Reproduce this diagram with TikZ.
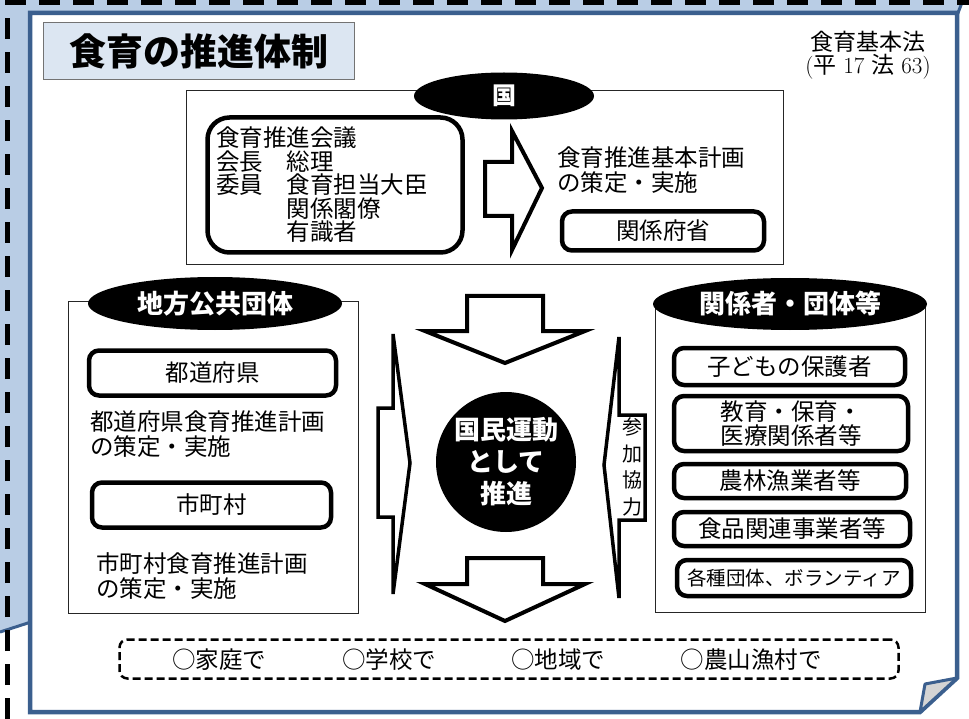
\documentclass[tikz,border=0pt]{standalone}
\usepackage{fontspec}
\newfontfamily\jp{Noto Sans CJK JP}
\usetikzlibrary{shapes.geometric}
\definecolor{pageblue}{HTML}{3B5F8E}
\definecolor{backblue}{HTML}{B9CDE5}
\definecolor{titleblue}{HTML}{DCE6F2}
\definecolor{foldgray}{HTML}{D4D4D4}
\begin{document}
\begin{tikzpicture}[x=1pt,y=-1pt]
  \def\txt{\jp\fontsize{23.5}{24.5}\selectfont}
  \def\head{\jp\bfseries\fontsize{26}{32}\selectfont}
  \tikzset{frame/.style={draw=black!85,line width=1pt,inner sep=0pt},
    tag/.style={ellipse,fill=black,text=white,inner sep=0pt,font=\head},
    org/.style={draw,line width=4.5pt,rounded corners=10pt,inner sep=0pt,align=center,font=\txt},
    plain/.style={inner sep=0pt,align=left,anchor=west,font=\txt},
    blk/.style={draw,line width=4pt,fill=white,line join=miter,miter limit=6}}
  \useasboundingbox (0,0) rectangle (969,719);
  %sheets
  \fill[backblue] (0,0) -- (964,0) -- (950,40) -- (30,621) -- (0,631) -- cycle;
  \draw[pageblue,line width=3pt] (0,632) -- (31,622) (956,18) -- (963,0);
  \draw[line width=5pt,dash pattern=on 21pt off 13pt] (7,719) -- (7,3) -- (969,3);
  \filldraw[draw=pageblue,fill=white,line width=4.5pt] (30,13) -- (957,13) -- (957,678) -- (920,712) -- (30,712) -- cycle;
  \filldraw[draw=pageblue,fill=foldgray,line width=3pt,line join=round] (957,678) -- (925,684) -- (920,712) -- cycle;
  %title
  \node[draw=black!55,line width=1.2pt,fill=titleblue,minimum width=311,minimum height=57,inner sep=0pt,
    font=\jp\bfseries\fontsize{37}{38}\selectfont] (title) at (199,51) {食育の推進体制};
  \node[inner sep=0pt,align=center,font=\fontsize{23}{23}\selectfont] (law) at (868,55)
    {{\jp 食育基本法}\\({\jp 平} 17 {\jp 法} 63)};
  %country
  \node[frame,minimum width=597,minimum height=174] (KUNI) at (484.5,178) {};
  \node[tag,minimum width=180,minimum height=47,font=\jp\bfseries\fontsize{24}{26}\selectfont] (kunitag) at (504,96) {国};
  \node[org,rounded corners=22pt,minimum width=255,minimum height=135,text width=238,align=left,
    font=\jp\fontsize{23.5}{23.5}\selectfont] (COUNCIL) at (335,185)
    {食育推進会議\\会長　総理\\委員　食育担当大臣\\　　　関係閣僚\\　　　有識者};
  \draw[blk] (485,162) -- (512,162) -- (512,131) -- (542,188) -- (512,250) -- (512,216) -- (485,216) -- cycle;
  \node[plain] (PLAN) at (557,170) {食育推進基本計画\\の策定・実施};
  \node[org,minimum width=202,minimum height=39] (MIN) at (663,231) {関係府省};
  %local
  \node[frame,minimum width=290,minimum height=311] (LOCAL) at (213,457.5) {};
  \node[tag,minimum width=254,minimum height=53] (localtag) at (215,303.5) {地方公共団体};
  \node[org,minimum width=247,minimum height=45] (PREF) at (212.5,373) {都道府県};
  \node[plain] (PREFPLAN) at (90,434) {都道府県食育推進計画\\の策定・実施};
  \node[org,minimum width=239,minimum height=45] (CITY) at (211.5,505) {市町村};
  \node[plain] (CITYPLAN) at (96,576) {市町村食育推進計画\\の策定・実施};
  %partners
  \node[frame,minimum width=270,minimum height=310] (PARTNERS) at (790,457) {};
  \node[tag,minimum width=274,minimum height=52] (partnertag) at (790,304) {関係者・団体等};
  \node[org,minimum width=231,minimum height=37] (PARENTS) at (789.5,366.5) {子どもの保護者};
  \node[org,minimum width=234,minimum height=55] (EDU) at (791,423.5) {教育・保育・\\医療関係者等};
  \node[org,minimum width=232,minimum height=34] (FARM) at (790,481) {農林漁業者等};
  \node[org,minimum width=236,minimum height=34] (FOOD) at (792,529) {食品関連事業者等};
  \node[org,minimum width=234,minimum height=36,font=\jp\fontsize{19.5}{21}\selectfont] (GROUPS) at (794,578)
    {各種団体、ボランティア};
  %centre
  \node[circle,fill=black,text=white,minimum size=140,inner sep=0pt,align=center,
    font=\jp\bfseries\fontsize{26}{32}\selectfont] (CORE) at (506,462) {国民運動\\として\\推進};
  \draw[blk] (467,296) -- (543,296) -- (543,331) -- (585,331) -- (505,363) -- (425,331) -- (467,331) -- cycle;
  \draw[blk] (467,558) -- (543,558) -- (543,584) -- (585,584) -- (505,621) -- (425,584) -- (467,584) -- cycle;
  \draw[blk,line width=3.5pt] (378,408) -- (393,408) -- (393,334) -- (410,463) -- (393,594) -- (393,517) -- (378,517) -- cycle;
  \draw[blk,line width=3.5pt] (645,415) -- (619,415) -- (619,337) -- (604,465) -- (619,598) -- (619,520) -- (645,520) -- cycle;
  \node[inner sep=0pt,align=center,font=\jp\fontsize{20}{26.5}\selectfont] (JOIN) at (632,467) {参\\加\\協\\力};
  %places
  \node[draw,line width=2.5pt,dash pattern=on 8pt off 4pt,rounded corners=8pt,minimum width=779,minimum height=39]
    (PLACES) at (509,659) {};
  \node[font=\txt,inner sep=0pt] (home) at (219,660) {○家庭で};
  \node[font=\txt,inner sep=0pt] (school) at (389,660) {○学校で};
  \node[font=\txt,inner sep=0pt] (area) at (558,660) {○地域で};
  \node[font=\txt,inner sep=0pt] (farmvillage) at (751,660) {○農山漁村で};
\end{tikzpicture}
\end{document}
